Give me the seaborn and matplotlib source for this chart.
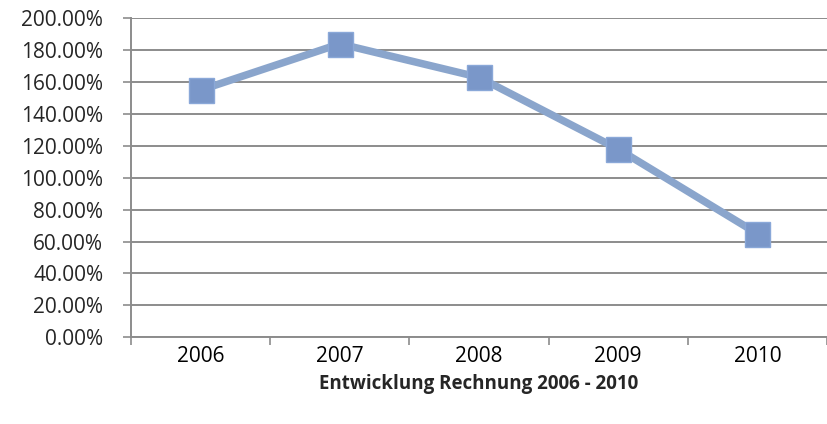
import matplotlib
matplotlib.use("Agg")
import matplotlib.pyplot as plt
from matplotlib.ticker import FixedLocator
import pandas as pd
import seaborn as sns

# data
years = ["2006", "2007", "2008", "2009", "2010"]
values = [155.0, 184.0, 163.0, 118.0, 65.0]
y_ticks = [0, 20, 40, 60, 80, 100, 120, 140, 160, 180, 200]
x_title = "Entwicklung Rechnung 2006 - 2010"

df = pd.DataFrame({"year": years, "value": values})

sns.set_style("white")
plt.rcParams["font.family"] = ["Open Sans", "DejaVu Sans"]

fig = plt.figure(figsize=(8.27, 4.24), dpi=100)
ax = fig.add_axes([0.1584, 0.2045, 0.8416, 0.7523])

sns.lineplot(data=df, x="year", y="value", ax=ax, color="#8aa5cc",
             linewidth=5.4, marker="s", markersize=18,
             markerfacecolor="#7a97c9", markeredgecolor="#8aa8d8",
             markeredgewidth=1.0, sort=False)

ax.set_ylim(0, 200)
ax.set_xlim(-0.5, len(years) - 0.5)
ax.set_yticks(y_ticks)
ax.set_yticklabels([f"{v:.2f}%" for v in y_ticks])
ax.yaxis.grid(True, color="#8c8c8c", linewidth=1.4)
ax.set_axisbelow(True)

# category ticks sit between categories
ax.set_xticks(range(len(years)))
ax.set_xticklabels(years)
ax.xaxis.set_minor_locator(FixedLocator([i - 0.5 for i in range(len(years) + 1)]))
ax.tick_params(axis="x", which="major", length=0, pad=6, labelsize=15, colors="black")
ax.tick_params(axis="x", which="minor", length=6, width=1.2, color="#8c8c8c", bottom=True)
ax.tick_params(axis="y", which="major", length=6, width=1.2, color="#8c8c8c",
               left=True, labelsize=15, pad=14)

for side in ["top", "right"]:
    ax.spines[side].set_visible(False)
for side in ["left", "bottom"]:
    ax.spines[side].set_color("#8c8c8c")
    ax.spines[side].set_linewidth(1.4)

ax.set_xlabel(x_title, fontsize=13.5, fontweight="bold", labelpad=5)
ax.set_ylabel("")

fig.savefig("out.png", dpi=100)
